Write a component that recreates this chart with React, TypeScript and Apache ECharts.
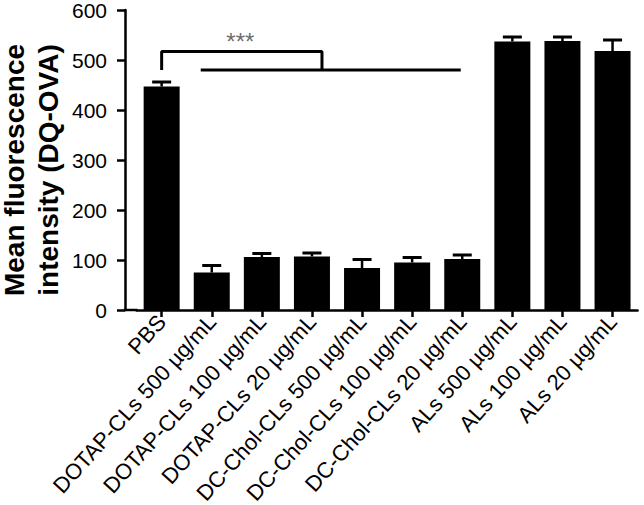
import React, { useEffect, useRef } from "react";
import * as echarts from "echarts";

const categories = [
  "PBS",
  "DOTAP-CLs 500 µg/mL",
  "DOTAP-CLs 100 µg/mL",
  "DOTAP-CLs 20 µg/mL",
  "DC-Chol-CLs 500 µg/mL",
  "DC-Chol-CLs 100 µg/mL",
  "DC-Chol-CLs 20 µg/mL",
  "ALs 500 µg/mL",
  "ALs 100 µg/mL",
  "ALs 20 µg/mL",
];
const means = [447, 75, 106, 107, 84, 95, 102, 537, 538, 518];
const errors = [9, 14, 7, 7, 17, 10, 8, 9, 8, 22];

const yTicks = [0, 100, 200, 300, 400, 500, 600];
const yTitleLines = ["Mean fluorescence", "intensity (DQ-OVA)"];

// significance bracket, in (category position, value) space
const bracketUpper = [
  [0, 480],
  [0, 517],
  [3.2, 517],
  [3.2, 480],
];
const bracketLower = [
  [0.78, 480],
  [5.97, 480],
];
const starText = "***";
const starPos = [1.57, 538];

const FONT = '"Liberation Sans", Arial, Helvetica, sans-serif';

export default function App() {
  const ref = useRef<HTMLDivElement>(null);
  useEffect(() => {
    if (!ref.current) return;
    const chart = echarts.init(ref.current, null, { renderer: "svg" });
    const errData = means.map((m, i) => [i, m, errors[i]]);
    const titleX = [14, 48];
    const option: any = {
      animation: false,
      backgroundColor: "#fff",
      textStyle: { fontFamily: FONT },
      grid: {
        left: 136.6,
        right: 6.4,
        top: 10,
        bottom: 195,
        containLabel: false,
        outerBoundsMode: "none",
      },
      xAxis: [
        {
          type: "category",
          data: categories,
          boundaryGap: true,
          axisLine: { show: true, onZero: false, lineStyle: { color: "#000", width: 2.5 } },
          axisTick: {
            show: true,
            alignWithLabel: true,
            length: 7,
            lineStyle: { color: "#000", width: 2.5 },
          },
          axisLabel: {
            interval: 0,
            rotate: 48,
            fontSize: 22,
            color: "#000",
            margin: 8,
            fontFamily: FONT,
          },
          splitLine: { show: false },
        },
        {
          type: "value",
          gridIndex: 0,
          min: -0.5,
          max: 9.5,
          show: false,
        },
      ],
      yAxis: {
        type: "value",
        min: yTicks[0],
        max: yTicks[yTicks.length - 1],
        interval: 100,
        offset: 11.6,
        axisLine: { show: true, onZero: false, lineStyle: { color: "#000", width: 2.5 } },
        axisTick: { show: true, length: 8, lineStyle: { color: "#000", width: 2.5 } },
        axisLabel: { fontSize: 21, color: "#000", margin: 18, fontFamily: FONT },
        splitLine: { show: false },
      },
      graphic: [
        {
          type: "line",
          shape: { x1: 123.8, y1: 310, x2: 137.5, y2: 310 },
          style: { stroke: "#000", lineWidth: 2.5 },
        },
        ...yTitleLines.map((t, k) => ({
          type: "text",
          x: titleX[k],
          y: 170,
          rotation: Math.PI / 2,
          style: {
            text: t,
            fontSize: 28,
            fontWeight: "bold",
            fontFamily: FONT,
            fill: "#000",
            lineHeight: 28,
            align: "center",
            verticalAlign: "middle",
          },
        })),
      ],
      series: [
        {
          type: "bar",
          data: means,
          barWidth: 36,
          itemStyle: { color: "#000" },
          xAxisIndex: 0,
          yAxisIndex: 0,
        },
        {
          type: "custom",
          xAxisIndex: 0,
          yAxisIndex: 0,
          data: errData,
          encode: { x: 0, y: 1 },
          renderItem: (params: any, api: any) => {
            const i = api.value(0);
            const m = api.value(1);
            const e = api.value(2);
            const p0 = api.coord([i, m]);
            const p1 = api.coord([i, m + e]);
            const half = 9.5;
            return {
              type: "group",
              children: [
                {
                  type: "line",
                  shape: { x1: p0[0], y1: p0[1], x2: p1[0], y2: p1[1] },
                  style: { stroke: "#000", lineWidth: 2.5 },
                },
                {
                  type: "line",
                  shape: { x1: p1[0] - half, y1: p1[1], x2: p1[0] + half, y2: p1[1] },
                  style: { stroke: "#000", lineWidth: 3 },
                },
              ],
            };
          },
          z: 3,
        },
        {
          type: "line",
          xAxisIndex: 1,
          yAxisIndex: 0,
          data: bracketUpper,
          symbol: "none",
          lineStyle: { color: "#000", width: 3 },
          z: 4,
        },
        {
          type: "line",
          xAxisIndex: 1,
          yAxisIndex: 0,
          data: bracketLower,
          symbol: "none",
          lineStyle: { color: "#000", width: 3 },
          z: 4,
        },
        {
          type: "scatter",
          xAxisIndex: 1,
          yAxisIndex: 0,
          data: [starPos],
          symbolSize: 0,
          label: {
            show: true,
            position: "inside",
            formatter: starText,
            fontSize: 24,
            color: "#444",
            fontFamily: FONT,
          },
          z: 4,
        },
      ],
    };
    chart.setOption(option);
    return () => chart.dispose();
  }, []);
  return (
    <div
      ref={ref}
      style={{ position: "absolute", left: 0, top: 0, width: 644, height: 505 }}
    />
  );
}
